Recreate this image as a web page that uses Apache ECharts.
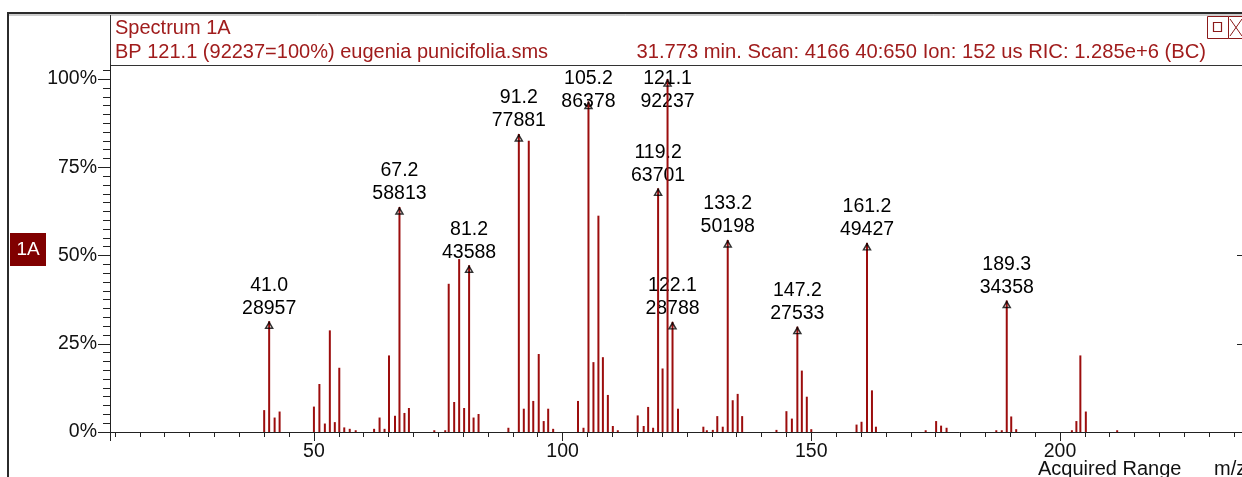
<!DOCTYPE html>
<html><head><meta charset="utf-8">
<script src="https://cdn.jsdelivr.net/npm/echarts@6/dist/echarts.min.js"></script>
<style>html,body{margin:0;padding:0;background:#fff}#c{width:1242px;height:477px}</style>
</head><body><div id="c"></div>
<script>
// ---------------- data ----------------
const basePeakCounts = 92237;
const labeledMz     = [41.0, 67.2, 81.2, 91.2, 105.2, 119.2, 121.1, 122.1, 133.2, 147.2, 161.2, 189.3];
const labeledCounts = [28957, 58813, 43588, 77881, 86378, 63701, 92237, 28788, 50198, 27533, 49427, 34358];
const peakMz  = [40.0, 42.1, 43.1, 50.0, 51.1, 52.2, 53.2, 54.2, 55.1, 56.1, 57.2, 58.4,
                 62.1, 63.2, 64.2, 65.1, 66.3, 68.2, 69.1, 74.2, 76.4, 77.1, 78.2, 79.2, 80.2, 82.1, 83.1,
                 89.1, 92.2, 93.2, 94.1, 95.2, 96.2, 97.1, 98.1, 103.1, 104.2, 106.2, 107.2, 108.1, 109.1,
                 110.1, 111.1, 115.1, 116.3, 117.2, 118.2, 120.1, 123.2, 128.3, 129.0, 130.2, 131.1, 132.2,
                 134.2, 135.2, 136.1, 143.0, 145.0, 146.1, 148.1, 149.1, 150.0, 159.1, 160.1, 162.2, 163.0,
                 173.0, 175.1, 176.1, 177.2, 187.2, 188.3, 190.2, 191.2, 202.4, 203.3, 204.1, 205.2, 211.5];
const peakPct = [6.2, 4.1, 5.8, 7.2, 13.6, 2.4, 28.8, 2.8, 18.2, 1.3, 0.9, 0.5,
                 0.9, 4.1, 0.9, 21.7, 4.6, 5.4, 6.8, 0.5, 0.5, 42.0, 8.5, 49.0, 6.8, 4.1, 5.1,
                 1.2, 6.6, 82.5, 8.8, 22.1, 3.1, 6.6, 0.9, 8.8, 1.2, 19.8, 61.3, 21.2, 10.5,
                 1.7, 0.5, 4.7, 1.7, 7.1, 1.2, 18.0, 6.6, 1.5, 0.5, 0.6, 4.5, 1.5,
                 9.0, 10.8, 4.5, 0.6, 5.9, 3.8, 17.4, 10.0, 0.8, 2.1, 2.9, 11.8, 1.5,
                 0.5, 3.1, 1.8, 1.2, 0.5, 0.5, 4.4, 0.8, 0.5, 3.1, 21.7, 5.8, 0.5];
const xTickLabels = [50, 100, 150, 200];
const yTickLabels = [0, 25, 50, 75, 100];
const titleLine1 = 'Spectrum 1A';
const titleLine2 = 'BP 121.1 (92237=100%) eugenia punicifolia.sms';
const titleRight = '31.773 min. Scan: 4166 40:650 Ion: 152 us RIC: 1.285e+6 (BC)';
const badgeText = '1A';
const footerText = 'Acquired Range';
const unitText = 'm/z';

// ---------------- build ----------------
const FONT = '"Liberation Sans", Arial, sans-serif';
const RED = '#9c0d0d';
const TXT = '#111';
const labeledPct = labeledCounts.map(c => c / basePeakCounts * 100);
const barData = peakMz.map((m, i) => [m, peakPct[i]])
  .concat(labeledMz.map((m, i) => [m, labeledPct[i]]))
  .sort((a, b) => a[0] - b[0]);
const LABEL_CAP = 90.05; // labels are kept inside the plot frame
const labelData = labeledMz.map((m, i) => ({
  name: m.toFixed(1) + '\n' + labeledCounts[i],
  value: [m, Math.min(labeledPct[i], LABEL_CAP)]
}));
const markerData = labeledMz.map((m, i) => [m, labeledPct[i]]);

const X_MIN = 9, X_MAX = 236.6, Y_MAX = 104;
const minorX = []; for (let v = 10; v <= 235; v += 5) minorX.push(v);
const minorY = []; for (let v = 0; v <= 102.5; v += 2.5) minorY.push(v);

const chart = echarts.init(document.getElementById('c'), null, {renderer: 'canvas'});
chart.setOption({
  animation: false,
  backgroundColor: '#fff',
  grid: {left: 110, right: 0, top: 65, bottom: 45, containLabel: false, outerBoundsMode: 'none'},
  xAxis: [
    {type: 'value', position: 'bottom', min: X_MIN, max: X_MAX,
     axisLine: {show: true, onZero: false, lineStyle: {color: '#222', width: 1}},
     axisTick: {show: true, length: 9, customValues: [X_MIN].concat(xTickLabels), lineStyle: {color: '#222'}},
     axisLabel: {show: true, customValues: xTickLabels, margin: 10, fontSize: 19.5, color: TXT, fontFamily: FONT},
     splitLine: {show: false}},
    {type: 'value', position: 'bottom', min: X_MIN, max: X_MAX,
     axisLine: {show: false},
     axisTick: {show: true, length: 5, customValues: minorX, lineStyle: {color: '#222'}},
     axisLabel: {show: false}, splitLine: {show: false}}
  ],
  yAxis: [
    {type: 'value', position: 'left', min: 0, max: Y_MAX,
     axisLine: {show: true, onZero: false, lineStyle: {color: '#222', width: 1}},
     axisTick: {show: true, length: 12, customValues: yTickLabels, lineStyle: {color: '#222'}},
     axisLabel: {show: true, customValues: yTickLabels, formatter: '{value}%', margin: 13,
                 fontSize: 19.5, color: TXT, fontFamily: FONT},
     splitLine: {show: false}},
    {type: 'value', position: 'left', min: 0, max: Y_MAX,
     axisLine: {show: false},
     axisTick: {show: true, length: 7, customValues: minorY, lineStyle: {color: '#222'}},
     axisLabel: {show: false}, splitLine: {show: false}},
    {type: 'value', position: 'right', min: 0, max: Y_MAX,
     axisLine: {show: false},
     axisTick: {show: true, inside: true, length: 5, customValues: [25, 50], lineStyle: {color: '#222'}},
     axisLabel: {show: false}, splitLine: {show: false}}
  ],
  series: [
    {type: 'scatter', z: 1, silent: true, xAxisIndex: 0, yAxisIndex: 0,
     symbol: 'circle', symbolSize: 1, itemStyle: {color: 'rgba(0,0,0,0)'},
     label: {show: true, position: 'top', distance: 1, formatter: '{b}', opacity: 1,
             fontSize: 19.5, lineHeight: 23, color: '#000', fontFamily: FONT, align: 'center'},
     labelLayout: {hideOverlap: false},
     data: labelData},
    {type: 'bar', z: 2, silent: true, xAxisIndex: 0, yAxisIndex: 0,
     barWidth: 2, itemStyle: {color: RED}, data: barData},
    {type: 'scatter', z: 3, silent: true, xAxisIndex: 0, yAxisIndex: 0,
     symbol: 'triangle', symbolSize: [7, 6], symbolOffset: [0, 4],
     itemStyle: {color: 'rgba(0,0,0,0)', borderColor: '#000', borderWidth: 1.5},
     data: markerData}
  ],
  graphic: [
    // outer frame
    {type: 'rect', shape: {x: 7, y: 12, width: 1240, height: 2}, style: {fill: '#2b2b2b'}, silent: true},
    {type: 'line', shape: {x1: 9, y1: 15, x2: 1242, y2: 15}, style: {stroke: '#9a9a9a', lineWidth: 1}, silent: true},
    {type: 'rect', shape: {x: 7, y: 12, width: 2, height: 470}, style: {fill: '#2b2b2b'}, silent: true},
    // header box
    {type: 'line', shape: {x1: 110.5, y1: 15, x2: 110.5, y2: 65}, style: {stroke: '#333', lineWidth: 1}, silent: true},
    {type: 'line', shape: {x1: 110, y1: 65.5, x2: 1242, y2: 65.5}, style: {stroke: '#333', lineWidth: 1}, silent: true},
    {type: 'text', left: 115, top: 18, silent: true,
     style: {text: titleLine1, fontSize: 20, fontFamily: FONT, fill: '#a01c1c'}},
    {type: 'text', left: 115, top: 42, silent: true,
     style: {text: titleLine2, fontSize: 20, fontFamily: FONT, fill: '#a01c1c'}},
    {type: 'text', right: 36, top: 42, silent: true,
     style: {text: titleRight, fontSize: 20.2, fontFamily: FONT, fill: '#a01c1c'}},
    // window icons
    {type: 'rect', shape: {x: 1207.5, y: 16.5, width: 21, height: 22}, style: {fill: '#fff', stroke: '#8b1a1a', lineWidth: 1}, silent: true},
    {type: 'rect', shape: {x: 1213.5, y: 22.5, width: 8, height: 9}, style: {fill: 'none', stroke: '#8b1a1a', lineWidth: 1.2}, silent: true},
    {type: 'rect', shape: {x: 1228.5, y: 16.5, width: 20, height: 22}, style: {fill: '#fff', stroke: '#8b1a1a', lineWidth: 1}, silent: true},
    {type: 'line', shape: {x1: 1230, y1: 19, x2: 1242, y2: 36}, style: {stroke: '#8b1a1a', lineWidth: 1}, silent: true},
    {type: 'line', shape: {x1: 1230, y1: 36, x2: 1242, y2: 19}, style: {stroke: '#8b1a1a', lineWidth: 1}, silent: true},
    // badge
    {type: 'rect', shape: {x: 10, y: 233, width: 36, height: 33}, style: {fill: '#800000'}, silent: true},
    {type: 'text', x: 28, y: 250, silent: true,
     style: {text: badgeText, fontSize: 19, fontFamily: FONT, fill: '#fff', align: 'center', verticalAlign: 'middle'}},
    // footer
    {type: 'text', left: 1038, top: 459, silent: true,
     style: {text: footerText, fontSize: 20, fontFamily: FONT, fill: TXT}},
    {type: 'text', left: 1214, top: 459, silent: true,
     style: {text: unitText, fontSize: 20, fontFamily: FONT, fill: TXT}}
  ]
});
</script></body></html>
